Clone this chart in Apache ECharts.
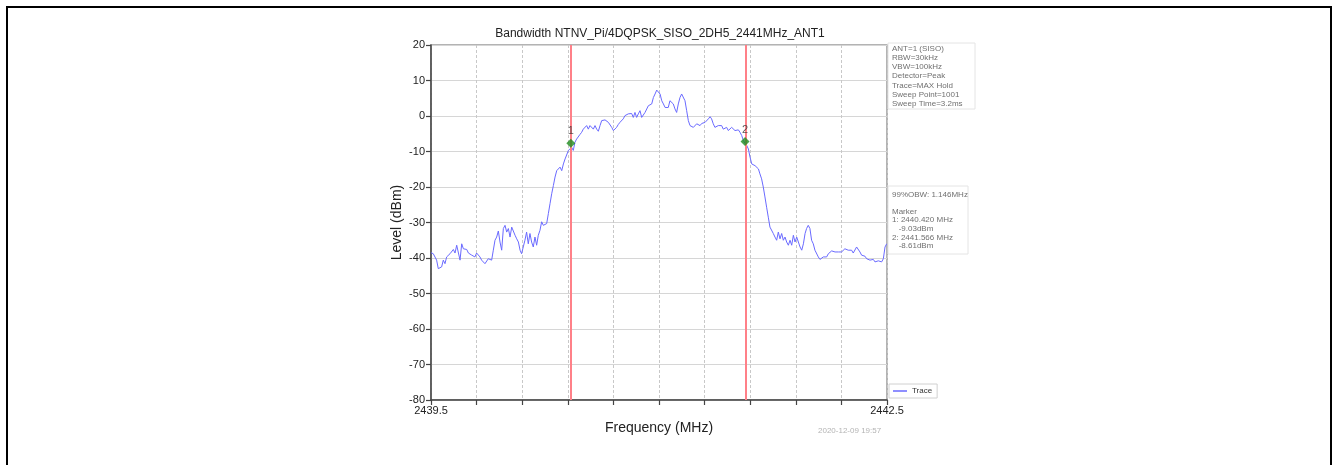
<!DOCTYPE html>
<html>
<head>
<meta charset="utf-8">
<script src="https://cdn.jsdelivr.net/npm/echarts@6/dist/echarts.min.js"></script>
<style>
html,body{margin:0;padding:0;background:#fff;}
#chart{width:1338px;height:465px;}
</style>
</head>
<body>
<div id="chart"></div>
<script>
const chartTitle = 'Bandwidth NTNV_Pi/4DQPSK_SISO_2DH5_2441MHz_ANT1';
const xAxisName = 'Frequency (MHz)';
const yAxisName = 'Level (dBm)';
const freqStart = 2439.5;
const freqEnd = 2442.5;
const freqTickStep = 0.3;
const levelMin = -80;
const levelMax = 20;
const levelTickStep = 10;

const traceFreqs = [
  2439.500, 2439.515, 2439.526, 2439.537, 2439.548, 2439.559, 2439.570, 2439.581, 2439.592, 2439.603,
  2439.614, 2439.625, 2439.636, 2439.647, 2439.658, 2439.669, 2439.680, 2439.691, 2439.702, 2439.713,
  2439.724, 2439.735, 2439.746, 2439.757, 2439.768, 2439.779, 2439.789, 2439.800, 2439.811, 2439.822,
  2439.833, 2439.844, 2439.855, 2439.866, 2439.877, 2439.888, 2439.899, 2439.910, 2439.921, 2439.932,
  2439.943, 2439.954, 2439.965, 2439.976, 2439.987, 2439.998, 2440.009, 2440.020, 2440.031, 2440.042,
  2440.053, 2440.064, 2440.075, 2440.086, 2440.096, 2440.107, 2440.118, 2440.129, 2440.140, 2440.151,
  2440.162, 2440.173, 2440.184, 2440.195, 2440.206, 2440.217, 2440.228, 2440.239, 2440.250, 2440.261,
  2440.272, 2440.283, 2440.294, 2440.305, 2440.316, 2440.327, 2440.338, 2440.349, 2440.360, 2440.371,
  2440.382, 2440.393, 2440.404, 2440.414, 2440.425, 2440.436, 2440.447, 2440.458, 2440.469, 2440.480,
  2440.491, 2440.502, 2440.513, 2440.524, 2440.535, 2440.546, 2440.557, 2440.568, 2440.579, 2440.590,
  2440.601, 2440.612, 2440.623, 2440.634, 2440.645, 2440.656, 2440.667, 2440.678, 2440.689, 2440.700,
  2440.711, 2440.721, 2440.732, 2440.743, 2440.754, 2440.765, 2440.776, 2440.787, 2440.798, 2440.809,
  2440.820, 2440.831, 2440.842, 2440.853, 2440.864, 2440.875, 2440.886, 2440.897, 2440.908, 2440.919,
  2440.930, 2440.941, 2440.952, 2440.963, 2440.974, 2440.985, 2440.996, 2441.007, 2441.018, 2441.029,
  2441.040, 2441.051, 2441.061, 2441.072, 2441.083, 2441.094, 2441.105, 2441.116, 2441.127, 2441.138,
  2441.149, 2441.160, 2441.171, 2441.182, 2441.193, 2441.204, 2441.215, 2441.226, 2441.237, 2441.248,
  2441.259, 2441.270, 2441.281, 2441.292, 2441.303, 2441.314, 2441.325, 2441.336, 2441.346, 2441.357,
  2441.368, 2441.379, 2441.390, 2441.401, 2441.412, 2441.423, 2441.434, 2441.445, 2441.456, 2441.467,
  2441.478, 2441.489, 2441.500, 2441.511, 2441.522, 2441.533, 2441.544, 2441.555, 2441.566, 2441.577,
  2441.588, 2441.599, 2441.610, 2441.621, 2441.632, 2441.643, 2441.654, 2441.664, 2441.675, 2441.686,
  2441.697, 2441.708, 2441.719, 2441.730, 2441.741, 2441.752, 2441.763, 2441.774, 2441.785, 2441.796,
  2441.807, 2441.818, 2441.829, 2441.840, 2441.851, 2441.862, 2441.873, 2441.884, 2441.895, 2441.906,
  2441.917, 2441.928, 2441.939, 2441.950, 2441.961, 2441.971, 2441.982, 2441.993, 2442.004, 2442.015,
  2442.026, 2442.037, 2442.048, 2442.059, 2442.070, 2442.081, 2442.092, 2442.103, 2442.114, 2442.125,
  2442.136, 2442.147, 2442.158, 2442.169, 2442.180, 2442.190, 2442.201, 2442.212, 2442.223, 2442.234,
  2442.245, 2442.256, 2442.267, 2442.278, 2442.289, 2442.300, 2442.311, 2442.322, 2442.333, 2442.344,
  2442.355, 2442.366, 2442.377, 2442.388, 2442.399, 2442.410, 2442.421, 2442.432, 2442.443, 2442.454,
  2442.465, 2442.476, 2442.487, 2442.498
];

const traceLevels = [
  -38.5, -38.8, -39.2, -40.6, -43.0, -43.3, -42.5, -40.6, -41.6, -39.7,
  -40.2, -38.8, -39.2, -37.6, -38.6, -36.4, -36.9, -40.6, -36.0, -37.4,
  -37.8, -37.6, -38.6, -38.3, -39.2, -38.8, -39.7, -38.6, -38.8, -39.7,
  -40.6, -41.1, -41.6, -42.0, -40.2, -39.7, -40.6, -37.8, -35.0, -34.1,
  -32.4, -35.5, -37.8, -31.7, -30.8, -32.7, -31.7, -34.1, -31.3, -31.1,
  -33.6, -34.6, -35.5, -37.8, -38.8, -36.9, -35.0, -32.7, -36.0, -33.1,
  -35.5, -36.9, -34.1, -36.4, -33.6, -32.2, -29.8, -30.8, -30.8, -30.3,
  -27.5, -24.7, -21.9, -19.6, -17.2, -15.4, -14.9, -14.4, -15.4, -13.5,
  -12.1, -11.6, -9.7, -9.3, -8.8, -9.7, -7.4, -6.5, -6.0, -5.2,
  -4.6, -3.7, -3.2, -2.7, -3.7, -2.7, -3.2, -3.7, -2.7, -3.7,
  -4.3, -2.7, -1.3, -0.8, -1.1, -1.1, -1.8, -2.2, -3.2, -4.1,
  -4.3, -3.2, -2.4, -1.8, -1.3, -0.8, 0.1, -0.4, 0.6, 0.1,
  0.7, -0.4, 1.0, -0.4, 0.6, 1.5, -0.4, -0.8, 1.0, 1.5,
  2.9, 2.4, 3.4, 5.2, 6.2, 7.3, 7.6, 6.2, 4.3, 3.4,
  2.4, 2.6, 2.4, 4.3, 4.8, 3.4, 2.0, 1.0, 3.4, 5.2,
  6.2, 6.2, 4.3, 1.5, -1.3, -2.7, -2.2, -3.2, -2.7, -2.2,
  -2.2, -2.7, -2.1, -2.2, -1.8, -1.3, -0.8, -0.2, -0.8, -2.2,
  -3.2, -2.7, -2.7, -3.2, -2.7, -3.7, -4.1, -3.2, -4.1, -3.7,
  -3.2, -3.7, -4.1, -3.7, -3.9, -4.6, -5.5, -6.9, -7.7, -8.3,
  -9.3, -11.6, -13.5, -13.0, -14.0, -13.5, -14.9, -16.3, -17.7, -20.0,
  -22.8, -25.7, -28.5, -31.3, -31.7, -33.1, -34.1, -35.0, -32.7, -34.6,
  -33.1, -35.0, -34.1, -35.5, -36.4, -35.0, -36.4, -33.6, -35.5, -34.1,
  -33.6, -36.9, -37.8, -36.0, -33.1, -31.7, -30.8, -31.7, -35.0, -36.0,
  -37.8, -38.3, -39.7, -40.4, -40.2, -39.7, -40.2, -39.7, -38.8, -39.2,
  -38.0, -38.3, -38.3, -38.6, -38.3, -37.8, -38.3, -37.8, -37.4, -37.1,
  -37.8, -38.3, -37.8, -38.6, -38.3, -36.9, -37.4, -38.3, -39.2, -39.7,
  -39.5, -40.2, -40.2, -40.6, -40.2, -40.4, -41.1, -40.6, -40.8, -41.1,
  -41.1, -40.2, -36.9, -36.0
];

const markerNames = ['1', '2'];
const markerFreqs = [2440.420, 2441.566];
const markerLevels = [-7.7, -7.2];

const settingLines = [
  'ANT=1 (SISO)', 'RBW=30kHz', 'VBW=100kHz', 'Detector=Peak',
  'Trace=MAX Hold', 'Sweep Point=1001', 'Sweep Time=3.2ms'
];
const resultLines = [
  '99%OBW: 1.146MHz', '', 'Marker', '1: 2440.420 MHz', '   -9.03dBm',
  '2: 2441.566 MHz', '   -8.61dBm'
];
const timestamp = '2020-12-09 19:57';
const legendName = 'Trace';

const FONT = '"Liberation Sans", Arial, sans-serif';
const chart = echarts.init(document.getElementById('chart'), null, {renderer: 'canvas'});

const traceData = traceFreqs.map((f, i) => [f - freqStart, traceLevels[i]]);
const markerData = markerFreqs.map((f, i) => ({
  value: [f - freqStart, markerLevels[i]],
  name: markerNames[i]
}));
const span = freqEnd - freqStart;

const option = {
  backgroundColor: '#fff',
  animation: false,
  textStyle: {fontFamily: FONT},
  grid: {
    left: 431, top: 45, width: 456, height: 355,
    show: true, borderColor: '#9a9a9a', borderWidth: 1.5, containLabel: false
  },
  legend: {
    show: true,
    data: [{name: legendName, icon: 'rect'}],
    left: 889, top: 384,
    orient: 'vertical',
    itemWidth: 14, itemHeight: 1.5,
    padding: [3, 5, 3, 4],
    borderColor: '#d0d0d0', borderWidth: 1,
    backgroundColor: '#fff',
    textStyle: {fontSize: 8, color: '#333', fontFamily: FONT}
  },
  xAxis: {
    type: 'value',
    min: 0, max: span, interval: freqTickStep,
    name: xAxisName, nameLocation: 'middle', nameGap: 20,
    nameTextStyle: {fontSize: 14, color: '#222', fontFamily: FONT},
    axisLine: {show: true, onZero: false, lineStyle: {color: '#444', width: 1.5}},
    axisTick: {show: true, inside: false, length: 5, lineStyle: {color: '#444', width: 1.2}},
    axisLabel: {
      fontSize: 11, color: '#222', margin: 5, fontFamily: FONT,
      showMinLabel: true, showMaxLabel: true,
      formatter: function (v) {
        if (Math.abs(v) < 1e-6) return freqStart.toFixed(1);
        if (Math.abs(v - span) < 1e-6) return freqEnd.toFixed(1);
        return '';
      }
    },
    splitLine: {show: true, lineStyle: {color: '#c8c8c8', width: 1, type: [3, 2]}}
  },
  yAxis: {
    type: 'value',
    min: levelMin, max: levelMax, interval: levelTickStep,
    name: yAxisName, nameLocation: 'middle', nameGap: 27, nameRotate: 90,
    nameTextStyle: {fontSize: 14, color: '#222', fontFamily: FONT},
    axisLine: {show: true, lineStyle: {color: '#444', width: 1.5}},
    axisTick: {show: true, inside: false, length: 5, lineStyle: {color: '#444', width: 1.2}},
    axisLabel: {fontSize: 11, color: '#222', margin: 6, fontFamily: FONT},
    splitLine: {show: true, lineStyle: {color: '#d6d6d6', width: 1}}
  },
  series: [
    {
      name: legendName,
      type: 'line',
      data: traceData,
      symbol: 'none',
      showSymbol: false,
      lineStyle: {color: '#6a6aff', width: 1},
      itemStyle: {color: '#6a6aff'},
      z: 3,
      markLine: {
        silent: true,
        symbol: ['none', 'none'],
        label: {show: false},
        lineStyle: {color: '#ff8088', width: 2, type: 'solid'},
        data: markerFreqs.map(f => ({xAxis: f - freqStart}))
      }
    },
    {
      name: 'markers',
      type: 'scatter',
      data: markerData,
      symbol: 'diamond',
      symbolSize: 9,
      itemStyle: {color: '#1e8c1e'},
      z: 5,
      label: {
        show: true, position: 'top', distance: 2,
        formatter: p => p.name,
        fontSize: 11, color: '#333', fontFamily: FONT
      }
    }
  ],
  graphic: [
    {type: 'line', shape: {x1: 6, y1: 7, x2: 1332, y2: 7}, style: {stroke: '#000', lineWidth: 2}},
    {type: 'line', shape: {x1: 7, y1: 7, x2: 7, y2: 465}, style: {stroke: '#000', lineWidth: 2}},
    {type: 'line', shape: {x1: 1331, y1: 7, x2: 1331, y2: 465}, style: {stroke: '#000', lineWidth: 2}},
    {type: 'text', x: 660, y: 28, style: {text: chartTitle, fontSize: 12, fill: '#222', textAlign: 'center', fontFamily: FONT}},
    {type: 'rect', shape: {x: 888, y: 43, width: 87, height: 66}, style: {fill: 'none', stroke: '#e4e4e4', lineWidth: 1}},
    {type: 'text', x: 892, y: 44, style: {text: settingLines.join('\n'), fontSize: 8, lineHeight: 9.2, fill: '#707070', fontFamily: FONT}},
    {type: 'rect', shape: {x: 888, y: 186, width: 80, height: 68}, style: {fill: 'none', stroke: '#e4e4e4', lineWidth: 1}},
    {type: 'text', x: 892, y: 190, style: {text: resultLines.join('\n'), fontSize: 8, lineHeight: 8.6, fill: '#707070', fontFamily: FONT}},
    {type: 'text', x: 818, y: 427, style: {text: timestamp, fontSize: 8, fill: '#b4b4b4', fontFamily: FONT}}
  ]
};
chart.setOption(option);
</script>
</body>
</html>
